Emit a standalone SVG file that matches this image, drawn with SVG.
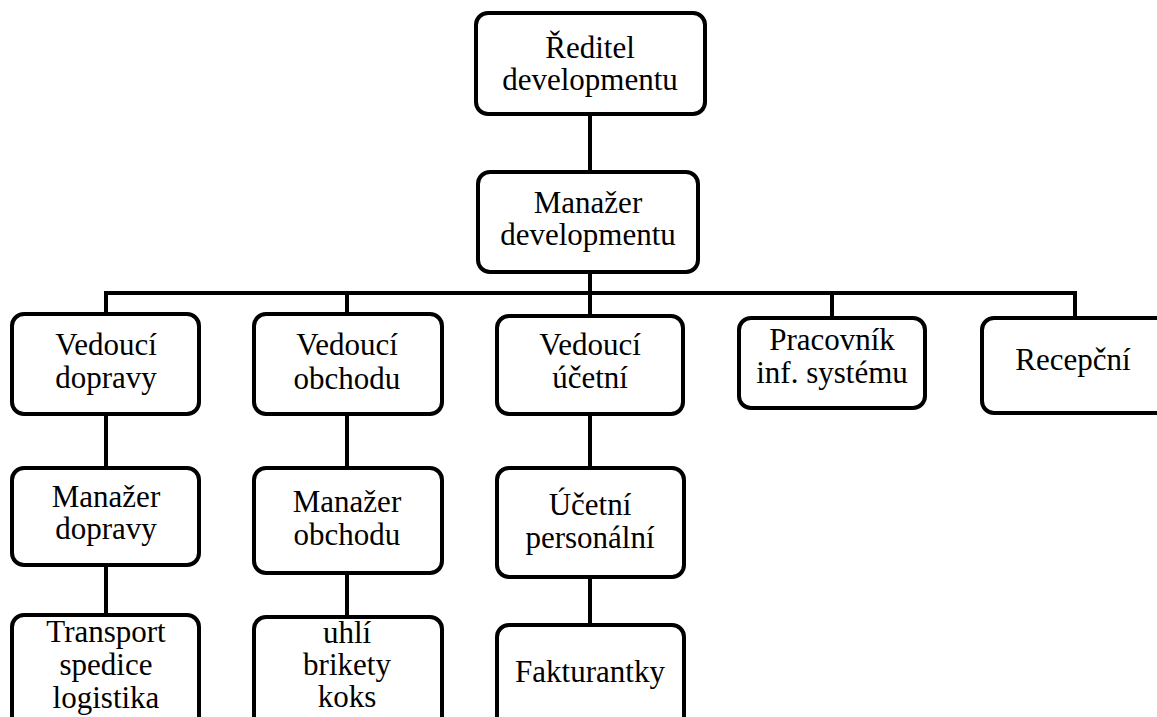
<svg xmlns="http://www.w3.org/2000/svg" width="1157" height="717" viewBox="0 0 1157 717">
  <style>
    .box { fill: #ffffff; stroke: #000000; stroke-width: 4; }
    .lbl { font-family: 'Liberation Serif', 'Times New Roman', serif; font-size: 31px; fill: #000000; text-anchor: middle; }
    .wire { fill: none; stroke: #000000; stroke-width: 4; }
  </style>
  <rect width="1157" height="717" fill="#ffffff"/>

  <!-- connectors -->
  <g id="connectors">
    <line class="wire" x1="590" y1="114" x2="590" y2="172"/>
    <line class="wire" x1="590" y1="272" x2="590" y2="316"/>
    <polyline class="wire" points="106,316 106,293 1075,293 1075,318"/>
    <line class="wire" x1="347" y1="293" x2="347" y2="314"/>
    <line class="wire" x1="832" y1="293" x2="832" y2="318"/>
    <line class="wire" x1="106" y1="414" x2="106" y2="468"/>
    <line class="wire" x1="347" y1="414" x2="347" y2="468"/>
    <line class="wire" x1="590" y1="414" x2="590" y2="468"/>
    <line class="wire" x1="106" y1="565" x2="106" y2="615"/>
    <line class="wire" x1="347" y1="573" x2="347" y2="617"/>
    <line class="wire" x1="590" y1="577" x2="590" y2="625"/>
  </g>

  <g id="reditel">
    <rect class="box" x="476" y="13" width="229" height="101" rx="12"/>
    <text class="lbl" x="590" y="58">Ředitel</text>
    <text class="lbl" x="590" y="90">developmentu</text>
  </g>

  <g id="manazer-developmentu">
    <rect class="box" x="478" y="172" width="220" height="100" rx="12"/>
    <text class="lbl" x="588" y="213">Manažer</text>
    <text class="lbl" x="588" y="245">developmentu</text>
  </g>

  <g id="vedouci-dopravy">
    <rect class="box" x="12" y="314" width="187" height="100" rx="12"/>
    <text class="lbl" x="106" y="355">Vedoucí</text>
    <text class="lbl" x="106" y="388">dopravy</text>
  </g>

  <g id="vedouci-obchodu">
    <rect class="box" x="254" y="314" width="188" height="100" rx="12"/>
    <text class="lbl" x="347" y="355">Vedoucí</text>
    <text class="lbl" x="347" y="389">obchodu</text>
  </g>

  <g id="vedouci-ucetni">
    <rect class="box" x="497" y="316" width="186" height="98" rx="12"/>
    <text class="lbl" x="590" y="355">Vedoucí</text>
    <text class="lbl" x="590" y="388">účetní</text>
  </g>

  <g id="pracovnik-is">
    <rect class="box" x="739" y="318" width="186" height="90" rx="12"/>
    <text class="lbl" x="832" y="350">Pracovník</text>
    <text class="lbl" x="832" y="383">inf. systému</text>
  </g>

  <g id="recepcni">
    <rect class="box" x="982" y="318" width="190" height="95" rx="12"/>
    <text class="lbl" x="1073" y="370">Recepční</text>
  </g>

  <g id="manazer-dopravy">
    <rect class="box" x="12" y="468" width="187" height="97" rx="12"/>
    <text class="lbl" x="106" y="507">Manažer</text>
    <text class="lbl" x="106" y="539">dopravy</text>
  </g>

  <g id="manazer-obchodu">
    <rect class="box" x="254" y="468" width="188" height="105" rx="12"/>
    <text class="lbl" x="347" y="512">Manažer</text>
    <text class="lbl" x="347" y="545">obchodu</text>
  </g>

  <g id="ucetni-personalni">
    <rect class="box" x="497" y="468" width="187" height="109" rx="12"/>
    <text class="lbl" x="590" y="515">Účetní</text>
    <text class="lbl" x="590" y="548">personální</text>
  </g>

  <g id="transport">
    <rect class="box" x="12" y="615" width="187" height="120" rx="12"/>
    <text class="lbl" x="106" y="642">Transport</text>
    <text class="lbl" x="106" y="675">spedice</text>
    <text class="lbl" x="106" y="708">logistika</text>
  </g>

  <g id="uhli">
    <rect class="box" x="254" y="617" width="188" height="120" rx="12"/>
    <text class="lbl" x="347" y="643">uhlí</text>
    <text class="lbl" x="347" y="675">brikety</text>
    <text class="lbl" x="347" y="707">koks</text>
  </g>

  <g id="fakturantky">
    <rect class="box" x="497" y="625" width="187" height="110" rx="12"/>
    <text class="lbl" x="590" y="682">Fakturantky</text>
  </g>
</svg>
